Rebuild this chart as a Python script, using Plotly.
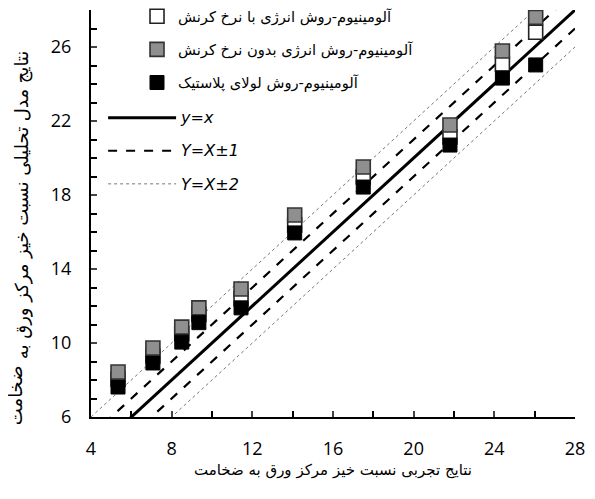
import plotly.graph_objects as go

# Experimental ratio (x) for each specimen
x_exp = [5.34, 7.07, 8.5, 9.35, 11.44, 14.1, 17.5, 21.8, 24.4, 26.05]
# Energy method with strain rate (open squares)
y_energy_rate = [8.05, 9.3, 10.5, 11.55, 12.4, 16.38, 18.97, 21.14, 25.08, 26.8]
# Energy method without strain rate (grey squares)
y_energy_norate = [8.43, 9.73, 10.86, 11.9, 12.92, 16.92, 19.51, 21.78, 25.78, 27.6]
# Plastic hinge method (black squares)
y_hinge = [7.62, 8.92, 10.05, 11.1, 11.9, 15.95, 18.43, 20.7, 24.32, 25.03]

# Reference lines y = x + offset
line_x = [4, 28]
offsets_solid = [0]
offsets_dash = [1, -1]
offsets_dot = [2, -2]

names = [
    "آلومینیوم-روش انرژی با نرخ کرنش",
    "آلومینیوم-روش انرژی بدون نرخ کرنش",
    "آلومینیوم-روش لولای پلاستیک",
    "<span style='font-size:16px'><i>y=x</i></span>",
    "<span style='font-size:16px'><i>Y=X±1</i></span>",
    "<span style='font-size:16px'><i>Y=X±2</i></span>",
]
x_title = "نتایج تجربی نسبت خیز مرکز ورق به ضخامت"
# y-axis title, drawn as two rotated pieces (start of phrase, last word)
y_title_parts = ["نتایج مدل تحلیلی نسبت خیز مرکز ورق به", "ضخامت"]

fig = go.Figure()

def add_line(off, name, show, dash, width, color, rank):
    fig.add_trace(go.Scatter(
        x=line_x, y=[v + off for v in line_x], mode="lines",
        line=dict(color=color, width=width, dash=dash),
        name=name, showlegend=show, legendgroup=name, legendrank=rank,
        legend="legend2", hoverinfo="skip"))

add_line(offsets_dot[0], names[5], True, "dot", 1, "#777777", 6)
add_line(offsets_dot[1], names[5], False, "dot", 1, "#777777", 6)
add_line(offsets_dash[0], names[4], True, "dash", 2.2, "black", 5)
add_line(offsets_dash[1], names[4], False, "dash", 2.2, "black", 5)
add_line(offsets_solid[0], names[3], True, "solid", 3, "black", 4)

fig.add_trace(go.Scatter(
    x=x_exp, y=y_energy_rate, mode="markers", name=names[0], legendgroup="a", legendrank=1,
    marker=dict(symbol="square", size=14, color="white", line=dict(color="#222222", width=1.6))))
fig.add_trace(go.Scatter(
    x=x_exp, y=y_energy_norate, mode="markers", name=names[1], legendgroup="b", legendrank=2,
    marker=dict(symbol="square", size=14, color="#8f8f8f", line=dict(color="#333333", width=1.6))))
fig.add_trace(go.Scatter(
    x=x_exp, y=y_hinge, mode="markers", name=names[2], legendgroup="c", legendrank=3,
    marker=dict(symbol="square", size=14, color="black", line=dict(color="black", width=1))))

tickfont = dict(family="Open Sans, Noto Sans, DejaVu Sans", size=18, color="black")
titlefont = dict(family="DejaVu Sans", size=15, color="black")
ytitlefont = dict(family="DejaVu Sans", size=18, color="black")
legfont = dict(family="DejaVu Sans", size=14.7, color="black")

fig.update_layout(
    width=587, height=491,
    margin=dict(l=83, r=20, t=2, b=82, autoexpand=False),
    plot_bgcolor="white", paper_bgcolor="white",
    showlegend=True,
    legend=dict(
        x=0.093, y=1.024, xanchor="left", yanchor="top",
        bgcolor="rgba(0,0,0,0)", itemwidth=32,
        font=legfont, tracegroupgap=11, traceorder="grouped",
    ),
    legend2=dict(
        x=0.025, y=0.775, xanchor="left", yanchor="top",
        bgcolor="rgba(0,0,0,0)", itemwidth=68,
        font=legfont, tracegroupgap=11, traceorder="grouped",
    ),
    xaxis=dict(
        range=[4, 28], tick0=4, dtick=4, ticks="inside", ticklen=6, tickwidth=1.5,
        showline=True, linecolor="black", linewidth=2, showgrid=False, zeroline=False,
        tickfont=tickfont, ticklabelstandoff=14,
        minor=dict(dtick=2, ticks="inside", ticklen=6, tickwidth=1.5, tickcolor="black", showgrid=False),
        title=dict(text=x_title, font=titlefont, standoff=6),
    ),
    yaxis=dict(
        range=[6, 28], tick0=6, dtick=4, ticks="inside", ticklen=6, tickwidth=1.5,
        showline=True, linecolor="black", linewidth=2, showgrid=False, zeroline=False,
        tickfont=tickfont, ticklabelstandoff=14,
        minor=dict(dtick=1, tick0=6, ticks="inside", ticklen=6, tickwidth=1.5, tickcolor="black", showgrid=False),
    ),
    annotations=[
        dict(text=y_title_parts[0], textangle=-90, xref="paper", yref="paper",
             x=-0.142, y=0.139, xanchor="center", yanchor="bottom", showarrow=False,
             font=ytitlefont, borderpad=0),
        dict(text=y_title_parts[1], textangle=-90, xref="paper", yref="paper",
             x=-0.156, y=0.131, xanchor="center", yanchor="top", showarrow=False,
             font=ytitlefont, borderpad=0),
    ],
)

fig.write_html("out.html")
